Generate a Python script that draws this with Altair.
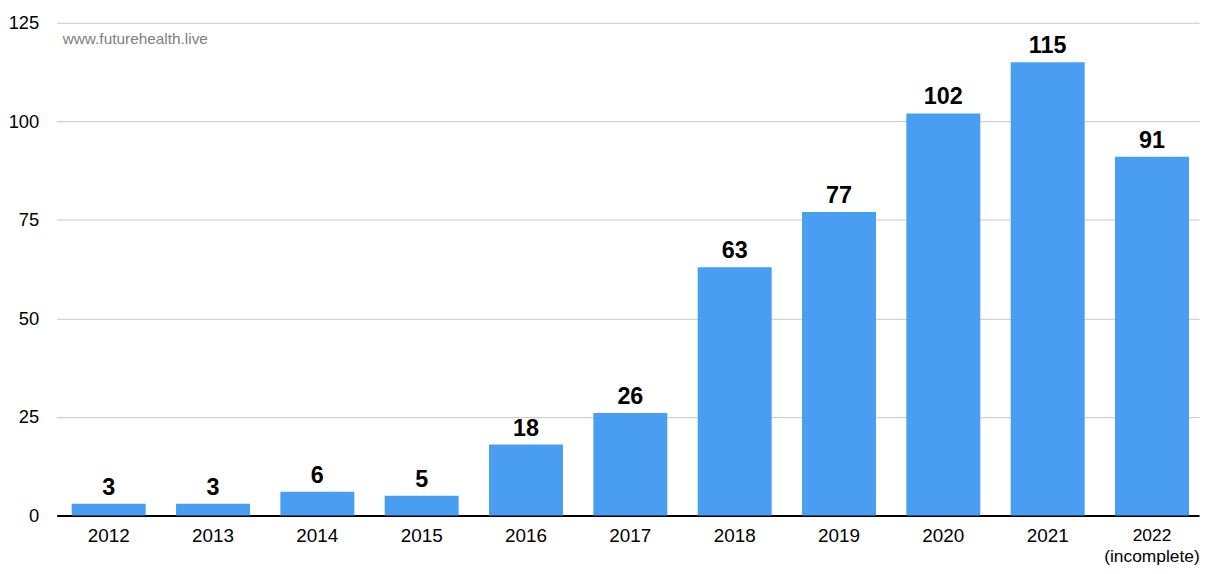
import altair as alt
import pandas as pd

years = ["2012", "2013", "2014", "2015", "2016", "2017", "2018", "2019", "2020", "2021", "2022 (incomplete)"]
counts = [3, 3, 6, 5, 18, 26, 63, 77, 102, 115, 91]
y_ticks = [0, 25, 50, 75, 100, 125]
watermark = "www.futurehealth.live"

df = pd.DataFrame({"year": years, "count": counts})

FONT = "Liberation Sans"
BAR = "#4A9EF2"

x_enc = alt.X(
    "year:N",
    sort=years,
    title=None,
    scale=alt.Scale(paddingInner=0.291, paddingOuter=0.12, align=0.6),
    axis=alt.Axis(
        labelAngle=0,
        labelFont=FONT,
        labelFontSize={"condition": {"test": f"datum.value == '{years[-1]}'", "value": 17.5}, "value": 19},
        labelColor="#000000",
        labelPadding=11,
        labelLineHeight=21,
        labelExpr="split(datum.label, ' ')",
        ticks=False,
        domainColor="#000000",
        domainWidth=2,
        grid=False,
    ),
)
y_enc = alt.Y(
    "count:Q",
    title=None,
    scale=alt.Scale(domain=[0, 125], nice=False),
    axis=alt.Axis(
        values=y_ticks,
        labelFont=FONT,
        labelFontSize=18.5,
        labelColor="#000000",
        labelPadding=18,
        ticks=False,
        domain=False,
        gridColor="#c8c8c8",
        gridWidth=1,
    ),
)

bars = alt.Chart(df).mark_bar(color=BAR).encode(x=x_enc, y=y_enc)

labels = alt.Chart(df).mark_text(
    font=FONT, fontSize=23.5, fontWeight="bold", color="#000000",
    baseline="alphabetic", dy=-9,
).encode(x=alt.X("year:N", sort=years), y="count:Q", text="count:Q")

wm = alt.Chart(pd.DataFrame({"t": [watermark]})).mark_text(
    font=FONT, fontSize=15.5, color="#808080", align="left", baseline="alphabetic",
).encode(x=alt.value(6), y=alt.value(21), text="t:N")

chart = alt.layer(bars, labels, wm).properties(
    width=1150,
    height=496,
    autosize=alt.AutoSizeParams(type="none"),
    padding={"left": 49, "top": 13, "right": 1, "bottom": 49},
).configure(background="#ffffff").configure_view(stroke=None)

chart.save("out.html", embed_options={"renderer": "svg", "actions": False})
